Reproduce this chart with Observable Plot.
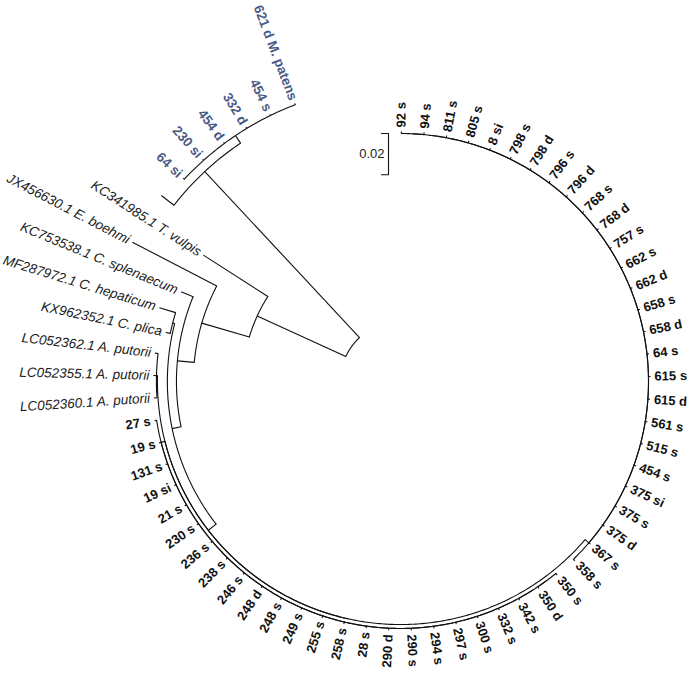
<!DOCTYPE html>
<html><head><meta charset="utf-8">
<script src="https://cdn.jsdelivr.net/npm/d3@7"></script>
<script src="https://cdn.jsdelivr.net/npm/@observablehq/plot@0.6"></script>
<style>body{margin:0;background:#fff}</style>
</head><body><div id="chart"></div>
<script>
// ---- tip labels in clockwise order from the top ----
const bigTipsA = ["92 s","94 s","811 s","805 s","8 si","798 s","798 d","796 s","796 d","768 s","768 d","757 s","662 s","662 d","658 s","658 d","64 s","615 s","615 d","561 s","515 s","454 s","375 si","375 s","375 d","367 s","358 s"];
const bigTipsB = ["350 s","350 d","342 s","332 s","300 s","297 s","294 s","290 s","290 d","28 s","258 s","255 s","249 s","248 s","248 d","246 s","238 s","236 s","230 s","21 s","19 si","131 s","19 s","27 s"];
const putoriiTips = ["LC052360.1 A. putorii","LC052355.1 A. putorii","LC052362.1 A. putorii"];
const refTips = ["KX962352.1 C. plica","MF287972.1 C. hepaticum","KC753538.1 C. splenaecum","JX456630.1 E. boehmi","KC341985.1 T. vulpis"];
const blueTips = ["64 si","230 si","454 d","332 d","454 s","621 d M. patens"];

// ---- branch lengths (substitutions / site) ----
const rootOffset = 0.0291;
const internalNodes   = ["G","H","N1","N2","N4","P","C1","E","N5","N3","B0","B1"];
const internalLengths = [0.0472,0.0240,0.0082,0.0044,0.0048,0.0000,0.0024,0.0019,0.0005,0.0010,0.1099,0.0044];
const refLengths = [0.0022,0.0082,0.0063,0.0460,0.0371];   // plica, hepaticum, splenaecum, boehmi, vulpis
const bigTipLength = 0.0010;
const putoriiTipLength = 0.0015;
const blueTipLength = 0.0007;
const unlabeledTipLength = 0.0077;
const scaleBarLength = 0.02;
const scaleBarLabel = "0.02";

// ---- layout constants ----
const W = 688, H = 674, cx = 400, cy = 381, k = 2065;  // px per unit
const theta0 = 0.2, dTheta = 5.215;                     // degrees, clockwise from top
const labelGap = 4;                                     // px
const blue = "#4a5a86";

const len = name => internalLengths[internalNodes.indexOf(name)];
const tip = (label, l, group) => ({label, len: l, group, children: []});
const node = (l, children) => ({len: l, children});
function comb(l, labels, tl, group) {
  let cur = node(0, [tip(labels[0], tl, group), tip(labels[1], tl, group)]);
  for (let i = 2; i < labels.length; i++) cur = node(0, [cur, tip(labels[i], tl, group)]);
  cur.len = l;
  return cur;
}

const tree = node(rootOffset, [
  node(len("G"), [
    node(len("H"), [
      node(len("N1"), [
        node(len("N2"), [
          node(len("N4"), [
            node(len("P"), [
              comb(len("C1"), bigTipsA, bigTipLength, "iso"),
              comb(len("E"), bigTipsB, bigTipLength, "iso")
            ]),
            node(len("N5"), putoriiTips.map(t => tip(t, putoriiTipLength, "ref")))
          ]),
          node(len("N3"), [tip(refTips[0], refLengths[0], "ref"), tip(refTips[1], refLengths[1], "ref")])
        ]),
        tip(refTips[2], refLengths[2], "ref")
      ]),
      tip(refTips[3], refLengths[3], "ref")
    ]),
    tip(refTips[4], refLengths[4], "ref")
  ]),
  node(len("B0"), [
    tip("", unlabeledTipLength, "none"),
    node(len("B1"), blueTips.map(t => tip(t, blueTipLength, "blue")))
  ])
]);

// ---- layout: radius = distance from root, angle = tip order / mean of children ----
let counter = 0;
function layout(n, rp) {
  n.r = rp + n.len;
  if (!n.children.length) { n.theta = theta0 + counter * dTheta; counter++; }
  else { n.children.forEach(c => layout(c, n.r)); n.theta = d3.mean(n.children, c => c.theta); }
}
layout(tree, 0);

const rad = d => d * Math.PI / 180;
const px = (r, t) => r * Math.sin(rad(t));
const py = (r, t) => r * Math.cos(rad(t));

const arcPts = [], radials = [], labels = [];
let arcId = 0;
function collect(n) {
  if (n.children.length > 1) {
    const a = d3.min(n.children, c => c.theta), b = d3.max(n.children, c => c.theta);
    const steps = Math.max(2, Math.ceil((b - a) / 0.5));
    for (let i = 0; i <= steps; i++) {
      const t = a + (b - a) * i / steps;
      arcPts.push({id: arcId, x: px(n.r, t), y: py(n.r, t)});
    }
    arcId++;
  }
  for (const c of n.children) {
    if (c.len > 0) radials.push({x1: px(n.r, c.theta), y1: py(n.r, c.theta), x2: px(c.r, c.theta), y2: py(c.r, c.theta)});
    collect(c);
  }
  if (!n.children.length && n.label) {
    const rl = n.r + labelGap / k;
    const right = n.theta < 180;
    labels.push({text: n.label, group: n.group, right,
      x: px(rl, n.theta), y: py(rl, n.theta),
      rot: right ? n.theta - 90 : n.theta - 270});
  }
}
collect(tree);

// scale bar
const sbX = (388 - cx) / k, sbTop = (cy - 133) / k, tick = 7 / k;
const scaleBar = [
  {x: sbX - tick, y: sbTop}, {x: sbX, y: sbTop},
  {x: sbX, y: sbTop - scaleBarLength}, {x: sbX - tick, y: sbTop - scaleBarLength}
];

const font = "Liberation Sans, Arial, Helvetica, sans-serif";
const textMark = (group, right, opts) => Plot.text(labels.filter(d => d.group === group && d.right === right), {
  x: "x", y: "y", text: "text", rotate: "rot", textAnchor: right ? "start" : "end",
  fontSize: 13, fontFamily: font, ...opts
});

const chart = Plot.plot({
  width: W, height: H, margin: 0,
  x: {domain: [-cx / k, (W - cx) / k], range: [0, W], axis: null},
  y: {domain: [cy / k, (cy - H) / k], range: [0, H], axis: null},
  style: {background: "#fff"},
  marks: [
    Plot.line(arcPts, {x: "x", y: "y", z: "id", stroke: "#111", strokeWidth: 1.1}),
    Plot.link(radials, {x1: "x1", y1: "y1", x2: "x2", y2: "y2", stroke: "#111", strokeWidth: 1.1}),
    Plot.line(scaleBar, {x: "x", y: "y", stroke: "#111", strokeWidth: 1.1}),
    Plot.text([scaleBarLabel], {x: (384 - cx) / k, y: sbTop - scaleBarLength / 2, text: d => d, textAnchor: "end", fontSize: 13, fontFamily: font, fill: "#222"}),
    textMark("iso", true, {fontWeight: "bold", fill: "#111"}),
    textMark("iso", false, {fontWeight: "bold", fill: "#111"}),
    textMark("ref", false, {fontStyle: "italic", fill: "#1a1a1a", fontSize: 13.5}),
    textMark("blue", false, {fontWeight: "bold", fill: blue, fontSize: 13.5})
  ]
});
document.getElementById("chart").appendChild(chart);
</script>
</body></html>
